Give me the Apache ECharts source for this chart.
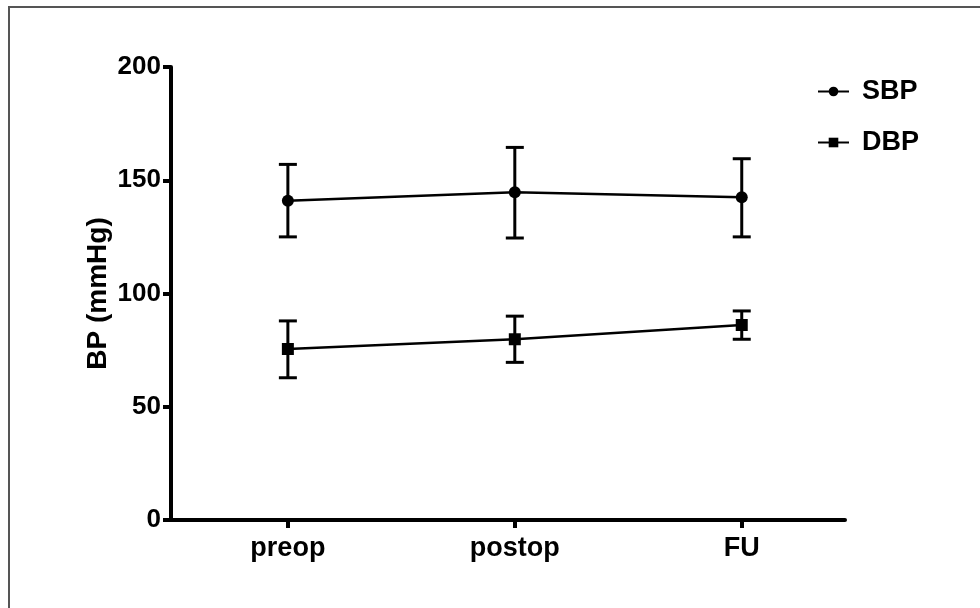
<!DOCTYPE html>
<html>
<head>
<meta charset="utf-8">
<script src="https://cdn.jsdelivr.net/npm/echarts@6/dist/echarts.min.js"></script>
<style>
  html, body { margin: 0; padding: 0; background: #fff; }
  #chart { width: 980px; height: 608px; }
</style>
</head>
<body>
<div id="chart"></div>
<script>
// categories on the x axis
const timepoints = ['preop', 'postop', 'FU']
const yTicks = [0, 50, 100, 150, 200]

// mean values and error bar limits (mmHg)
const sbpMean = [141, 144.7, 142.5]
const sbpLow = [125, 124.5, 125]
const sbpHigh = [157, 164.5, 159.5]

const dbpMean = [75.5, 79.8, 86.1]
const dbpLow = [62.8, 69.6, 79.8]
const dbpHigh = [87.9, 90, 92.3]

const font = 'Liberation Sans, Arial, sans-serif'

const toPoints = vals => vals.map((v, i) => [i, v])
const toBars = (lo, hi) => lo.map((v, i) => [i, v, hi[i]])

// error bar drawing: vertical line with caps
const errorBar = (params, api) => {
  const x = api.value(0)
  const top = api.coord([x, api.value(2)])
  const bot = api.coord([x, api.value(1)])
  const half = 9
  const style = { stroke: '#000', lineWidth: 3 }
  return {
    type: 'group',
    children: [
      { type: 'line', shape: { x1: top[0], y1: top[1], x2: bot[0], y2: bot[1] }, style },
      { type: 'line', shape: { x1: top[0] - half, y1: top[1], x2: top[0] + half, y2: top[1] }, style },
      { type: 'line', shape: { x1: bot[0] - half, y1: bot[1], x2: bot[0] + half, y2: bot[1] }, style }
    ]
  }
}

const chart = echarts.init(document.getElementById('chart'))
chart.setOption({
  animation: false,
  backgroundColor: '#fff',
  graphic: [
    {
      type: 'rect',
      shape: { x: 9, y: 7, width: 1000, height: 700 },
      style: { fill: 'none', stroke: '#555', lineWidth: 2 },
      silent: true
    }
  ],
  legend: {
    orient: 'vertical',
    left: 812,
    top: 73,
    itemGap: 24,
    itemWidth: 31,
    itemHeight: 12,
    textStyle: { fontFamily: font, fontWeight: 'bold', fontSize: 27, color: '#000', padding: [0, 0, 0, 8] },
    data: ['SBP', 'DBP']
  },
  grid: { left: 171, right: 135, top: 67, bottom: 88 },
  xAxis: {
    type: 'value',
    min: -0.515,
    max: 2.455,
    splitLine: { show: false },
    axisLine: { lineStyle: { color: '#000', width: 4 } },
    axisTick: { show: true, length: 8, lineStyle: { color: '#000', width: 4 }, customValues: [0, 1, 2] },
    axisLabel: {
      customValues: [0, 1, 2],
      formatter: v => timepoints[Math.round(v)],
      margin: 15,
      fontFamily: font,
      fontWeight: 'bold',
      fontSize: 27,
      color: '#000'
    }
  },
  yAxis: {
    type: 'value',
    min: 0,
    max: 200,
    interval: 50,
    name: 'BP (mmHg)',
    nameLocation: 'middle',
    nameGap: 59,
    nameMoveOverlap: false,
    nameTextStyle: { fontFamily: font, fontWeight: 'bold', fontSize: 28, color: '#000' },
    splitLine: { show: false },
    axisLine: { show: true, onZero: false, lineStyle: { color: '#000', width: 4 } },
    axisTick: { show: true, length: 8, lineStyle: { color: '#000', width: 4 } },
    axisLabel: {
      margin: 10,
      fontFamily: font,
      fontWeight: 'bold',
      fontSize: 26,
      color: '#000',
      formatter: v => (yTicks.includes(v) ? String(v) : '')
    }
  },
  series: [
    {
      name: 'SBP',
      type: 'line',
      data: toPoints(sbpMean),
      symbol: 'circle',
      symbolSize: 12,
      itemStyle: { color: '#000' },
      lineStyle: { color: '#000', width: 2.5 },
      z: 3
    },
    {
      name: 'DBP',
      type: 'line',
      data: toPoints(dbpMean),
      symbol: 'rect',
      symbolSize: 12,
      itemStyle: { color: '#000' },
      lineStyle: { color: '#000', width: 2.5 },
      z: 3
    },
    {
      name: 'SBP err',
      type: 'custom',
      renderItem: errorBar,
      data: toBars(sbpLow, sbpHigh),
      z: 2
    },
    {
      name: 'DBP err',
      type: 'custom',
      renderItem: errorBar,
      data: toBars(dbpLow, dbpHigh),
      z: 2
    }
  ]
})
</script>
</body>
</html>
